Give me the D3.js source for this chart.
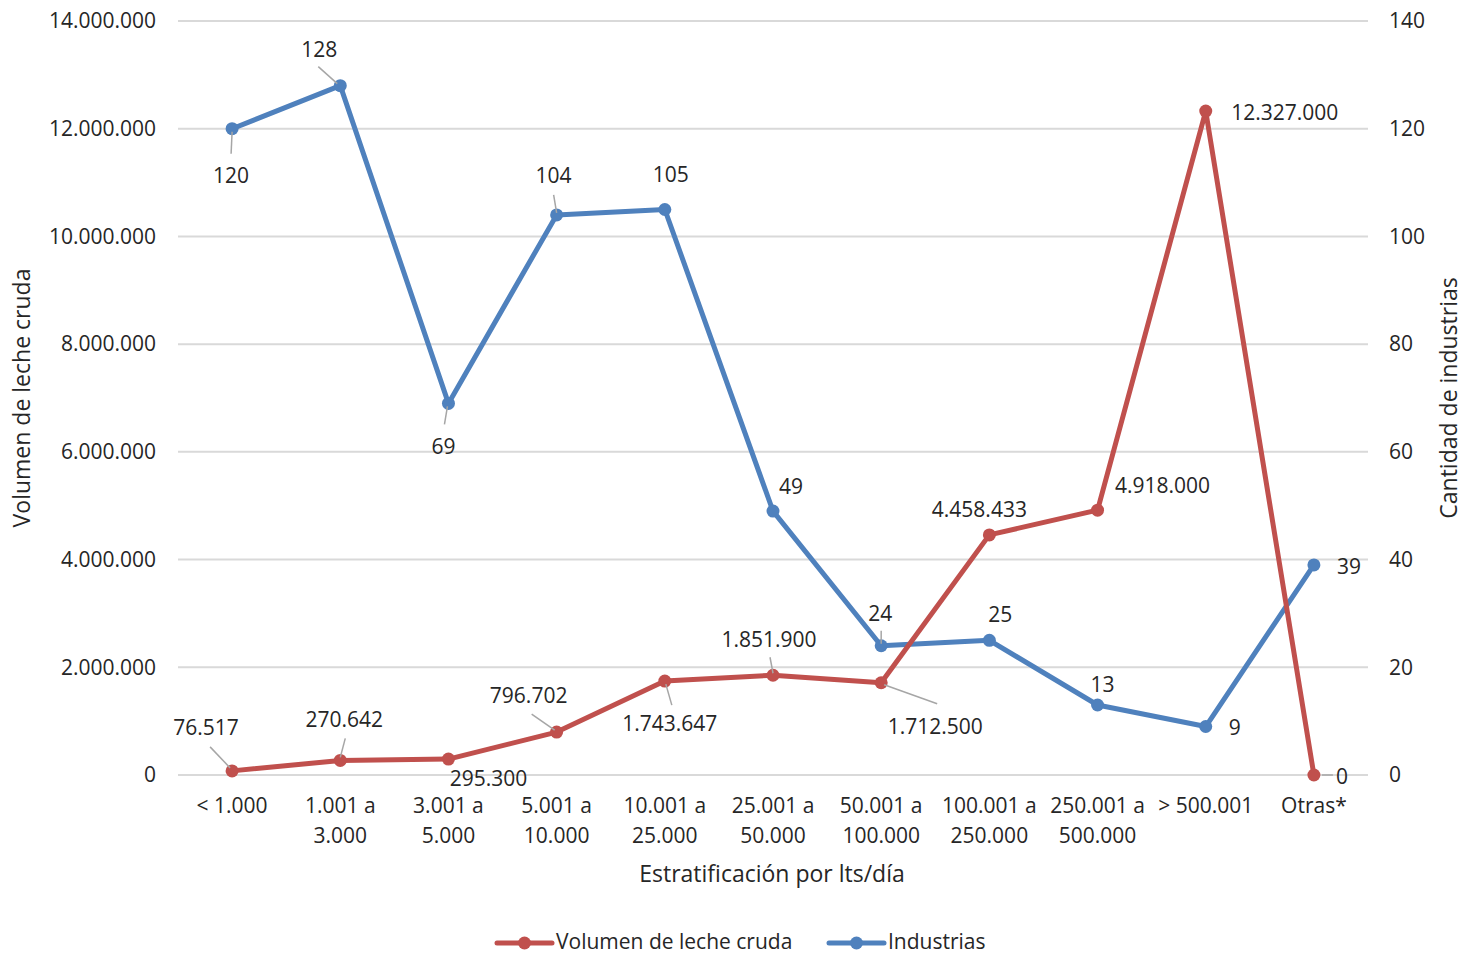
<!DOCTYPE html>
<html>
<head>
<meta charset="utf-8">
<script src="https://cdn.jsdelivr.net/npm/d3@7"></script>
<style>
  html, body { margin: 0; padding: 0; background: #fff; }
  svg text { font-family: "Open Sans", "Liberation Sans", sans-serif; fill: #262626; }
</style>
</head>
<body>
<svg id="chart" width="1464" height="956"></svg>
<script>
// ---- data ----
const categories = [
  ["<  1.000"], ["1.001 a", "3.000"], ["3.001 a", "5.000"], ["5.001 a", "10.000"],
  ["10.001 a", "25.000"], ["25.001 a", "50.000"], ["50.001 a", "100.000"],
  ["100.001 a", "250.000"], ["250.001 a", "500.000"], ["> 500.001"], ["Otras*"]
];
const volumen = [76517, 270642, 295300, 796702, 1743647, 1851900, 1712500, 4458433, 4918000, 12327000, 0];
const industrias = [120, 128, 69, 104, 105, 49, 24, 25, 13, 9, 39];
const leftTicks = [0, 2000000, 4000000, 6000000, 8000000, 10000000, 12000000, 14000000];
const rightTicks = [0, 20, 40, 60, 80, 100, 120, 140];
const seriesNames = ["Volumen de leche cruda", "Industrias"];
const xTitle = "Estratificación por lts/día";
const yLeftTitle = "Volumen de leche cruda";
const yRightTitle = "Cantidad de industrias";

// ---- layout (label offsets relative to point: [dx, dy, leader?]) ----
const volLabelPos = [
  [-26, -44, [[-2, -3], [-22, -24]]],
  [4, -41, [[0, -3], [5, -22]]],
  [40, 19, null],
  [-28, -37, [[-2, -2], [-25, -18]]],
  [5, 42, [[1, 3], [7, 24]]],
  [-4, -36, [[0, -2], [-3, -18]]],
  [54, 43, [[3, 2], [56, 21]]],
  [-10, -26, null],
  [65, -25, null],
  [79, 1, null],
  [28, 1, [[8, 0], [19, 0]]]
];
const indLabelPos = [
  [-1, 46, [[0, 3], [-1, 25]]],
  [-21, -37, [[-3, -2], [-22, -19]]],
  [-5, 43, [[-1, 3], [-4, 21]]],
  [-3, -40, [[0, -2], [-3, -20]]],
  [6, -36, null],
  [18, -25, null],
  [-1, -33, [[0, -2], [0, -15]]],
  [11, -26, null],
  [5, -21, null],
  [29, 0, null],
  [35, 1, null]
];

const W = 1464, H = 956;
const plot = { left: 178, right: 1368, top: 21, bottom: 775 };
const red = "#C0504D", blue = "#4F81BD";
const FS = 21, TFS = 23;
const fmt = d3.formatLocale({ decimal: ",", thousands: ".", grouping: [3], currency: ["", ""] }).format(",d");

const svg = d3.select("#chart");

const x = d3.scalePoint().domain(d3.range(categories.length)).range([plot.left, plot.right]).padding(0.5);
const yL = d3.scaleLinear().domain([0, 14000000]).range([plot.bottom, plot.top]);
const yR = d3.scaleLinear().domain([0, 140]).range([plot.bottom, plot.top]);

// gridlines
svg.append("g").selectAll("line").data(leftTicks).join("line")
  .attr("x1", plot.left).attr("x2", plot.right)
  .attr("y1", d => yL(d)).attr("y2", d => yL(d))
  .attr("stroke", "#d9d9d9").attr("stroke-width", 2);

// left axis
const gL = svg.append("g").attr("transform", `translate(${plot.left - 22},0)`)
  .call(d3.axisLeft(yL).tickValues(leftTicks).tickFormat(fmt).tickSize(0).tickPadding(0));
gL.select(".domain").remove();
gL.selectAll("text").attr("font-size", FS).attr("fill", "#262626").style("font-family", '"Open Sans", sans-serif');

// right axis
const gR = svg.append("g").attr("transform", `translate(${plot.right + 21},0)`)
  .call(d3.axisRight(yR).tickValues(rightTicks).tickFormat(d3.format("d")).tickSize(0).tickPadding(0));
gR.select(".domain").remove();
gR.selectAll("text").attr("font-size", FS).attr("fill", "#262626").style("font-family", '"Open Sans", sans-serif');

// x axis category labels
const gX = svg.append("g");
categories.forEach((c, i) => {
  const t = gX.append("text").attr("x", x(i)).attr("y", 813).attr("text-anchor", "middle").attr("font-size", FS);
  c.forEach((line, j) => {
    t.append("tspan").attr("x", x(i)).attr("dy", j === 0 ? 0 : 30).text(line);
  });
});

// axis titles
svg.append("text").attr("x", 772).attr("y", 882).attr("text-anchor", "middle").attr("font-size", TFS).text(xTitle);
svg.append("text").attr("transform", `translate(30,398) rotate(-90)`).attr("text-anchor", "middle").attr("font-size", TFS).text(yLeftTitle);
svg.append("text").attr("transform", `translate(1457,398) rotate(-90)`).attr("text-anchor", "middle").attr("font-size", TFS).text(yRightTitle);

// lines
function drawSeries(values, yScale, color) {
  const line = d3.line().x((d, i) => x(i)).y(d => yScale(d));
  svg.append("path").datum(values).attr("d", line)
    .attr("fill", "none").attr("stroke", color).attr("stroke-width", 5).attr("stroke-linejoin", "round").attr("stroke-linecap", "round");
  svg.append("g").selectAll("circle").data(values).join("circle")
    .attr("cx", (d, i) => x(i)).attr("cy", d => yScale(d)).attr("r", 6.5).attr("fill", color);
}
drawSeries(industrias, yR, blue);
drawSeries(volumen, yL, red);

// data labels
function drawLabels(values, yScale, pos, f) {
  const g = svg.append("g");
  values.forEach((v, i) => {
    const px = x(i), py = yScale(v);
    const p = pos[i];
    if (p[2]) {
      g.append("line")
        .attr("x1", px + p[2][0][0]).attr("y1", py + p[2][0][1])
        .attr("x2", px + p[2][1][0]).attr("y2", py + p[2][1][1])
        .attr("stroke", "#a6a6a6").attr("stroke-width", 1.5);
    }
    g.append("text").attr("x", px + p[0]).attr("y", py + p[1])
      .attr("text-anchor", "middle").attr("dominant-baseline", "central")
      .attr("font-size", FS).text(f(v));
  });
}
drawLabels(industrias, yR, indLabelPos, d3.format("d"));
drawLabels(volumen, yL, volLabelPos, fmt);

// legend
const legend = svg.append("g");
const legY = 941;
const legItems = [
  { name: seriesNames[0], color: red, x0: 497 },
  { name: seriesNames[1], color: blue, x0: 829 }
];
legItems.forEach(it => {
  legend.append("line").attr("x1", it.x0).attr("x2", it.x0 + 55).attr("y1", legY + 2).attr("y2", legY + 2)
    .attr("stroke", it.color).attr("stroke-width", 5).attr("stroke-linecap", "round");
  legend.append("circle").attr("cx", it.x0 + 27.5).attr("cy", legY + 2).attr("r", 6.5).attr("fill", it.color);
  legend.append("text").attr("x", it.x0 + 59).attr("y", legY).attr("dominant-baseline", "central")
    .attr("font-size", FS).text(it.name);
});
</script>
</body>
</html>
